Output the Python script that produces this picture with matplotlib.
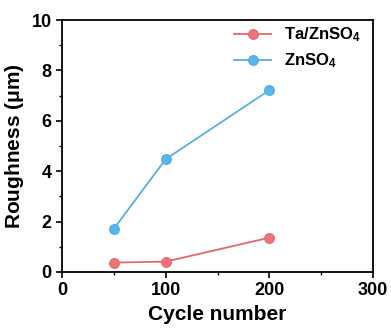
import numpy as np
import matplotlib.pyplot as plt
from matplotlib.ticker import MultipleLocator

plt.rcParams['font.family'] = ['Liberation Sans', 'DejaVu Sans']
plt.rcParams['font.weight'] = 'bold'
plt.rcParams['mathtext.fontset'] = 'custom'
plt.rcParams['mathtext.rm'] = 'Liberation Sans'
plt.rcParams['mathtext.bf'] = 'Liberation Sans:bold'
plt.rcParams['mathtext.default'] = 'regular'

cycles = [50, 100, 200]
ta_znso4 = [0.37, 0.41, 1.36]
znso4 = [1.72, 4.48, 7.22]

fig = plt.figure(figsize=(3.91, 3.3), dpi=100)
ax = fig.add_axes([0.159, 0.176, 0.795, 0.763])

ax.plot(cycles, ta_znso4, '-o', color='#E5676B', lw=1.3, ms=7,
        mfc='#EF7378', mec='#E0686C', mew=0.8, label=r'Ta/ZnSO$_\mathbf{4}$')
ax.plot(cycles, znso4, '-o', color='#5AAEDF', lw=1.3, ms=7,
        mfc='#56B6F0', mec='#55A8DC', mew=0.8, label=r'ZnSO$_\mathbf{4}$')

ax.set_xlim(0, 300)
ax.set_ylim(0, 10)
ax.xaxis.set_major_locator(MultipleLocator(100))
ax.xaxis.set_minor_locator(MultipleLocator(50))
ax.yaxis.set_major_locator(MultipleLocator(2))
ax.yaxis.set_minor_locator(MultipleLocator(1))
ax.tick_params(which='major', direction='out', length=4, width=1.2, labelsize=13)
ax.tick_params(which='minor', direction='out', length=2, width=1)
for s in ax.spines.values():
    s.set_linewidth(1.3)

ax.set_xlabel('Cycle number', fontsize=15, fontweight='bold')
ax.set_ylabel('Roughness $\\mathrm{(μm)}$', fontsize=15, fontweight='bold')

ax.legend(loc='upper right', bbox_to_anchor=(1.0, 1.025), frameon=False,
          fontsize=12, handlelength=2.2, borderaxespad=0.3, labelspacing=0.45)

fig.savefig('out.png', dpi=100)
